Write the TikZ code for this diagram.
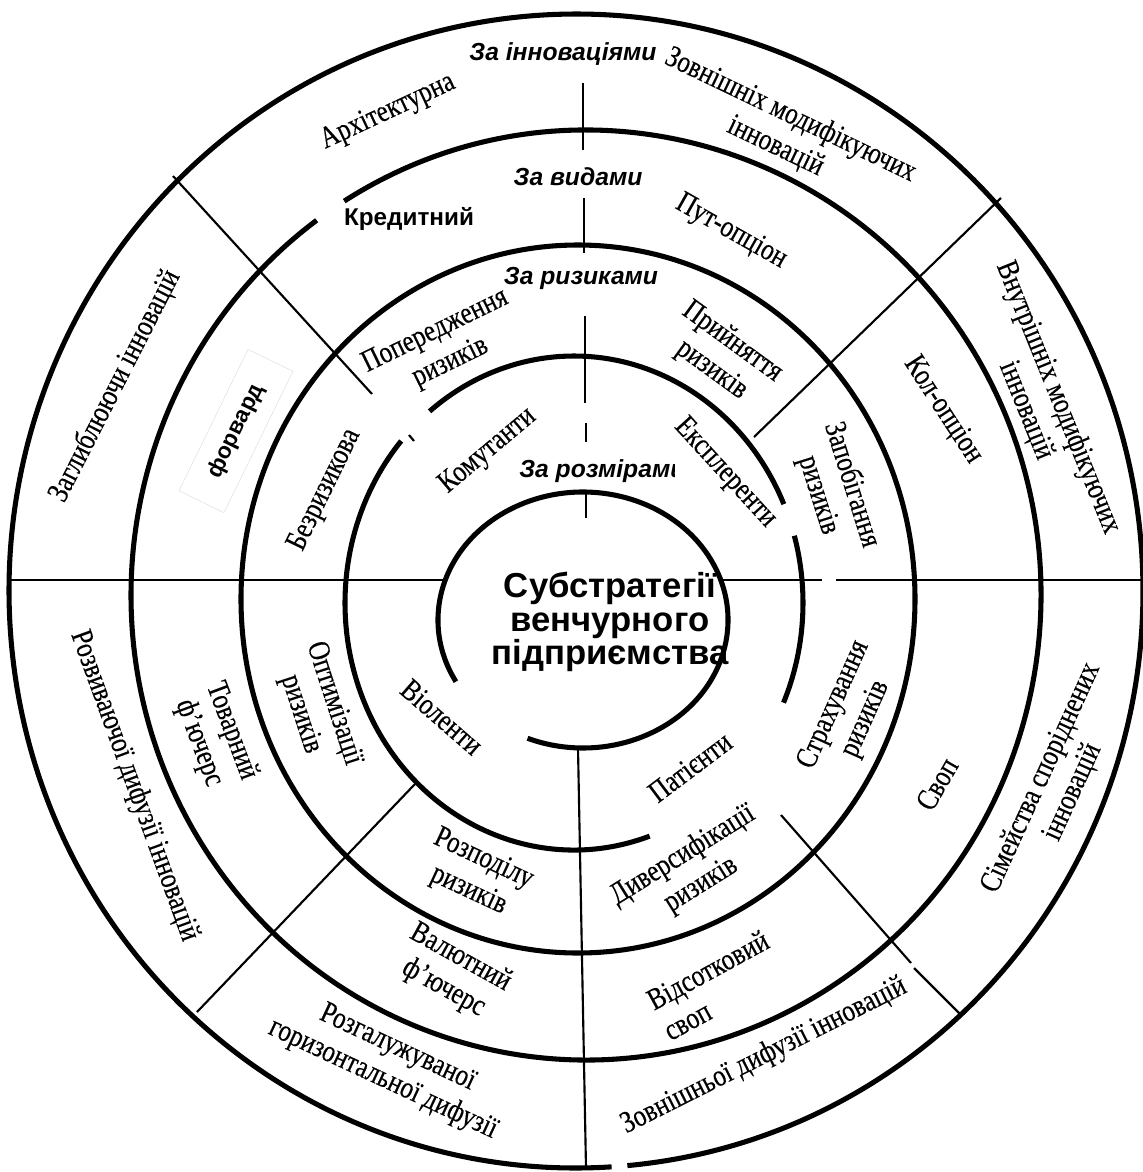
\documentclass[tikz,border=0pt]{standalone}
\usepackage{fontspec}
\setmainfont{Liberation Serif}
\newfontfamily\narrowserif[FakeStretch=0.82,FakeBold=0.3]{Liberation Serif}
\newfontfamily\arialfont{Liberation Sans}

\tikzset{
  ring/.style={line width=3.8pt},
  divider/.style={line width=1.6pt},
  lbl/.style={inner sep=0.75pt, align=center, font=\fontsize{23}{26}\selectfont\narrowserif},
  grp/.style={inner sep=0.75pt, font=\fontsize{18.5}{21}\selectfont\arialfont\bfseries\itshape},
  kind/.style={inner sep=0.75pt, font=\fontsize{18.2}{21}\selectfont\arialfont\bfseries},
}

\begin{document}
\begin{tikzpicture}[x=0.75pt,y=0.75pt,yscale=-1,xscale=1]
\useasboundingbox (0,0) rectangle (1143,1172);

%Shape: Arc [outer ring]
\draw [ring] (576,591) ++(86.4:567 and 577) arc [start angle=86.4, end angle=444.8, x radius=567, y radius=577];
%Shape: Arc
\draw [ring] (586,595) ++(237.9:455 and 465) arc [start angle=237.9, end angle=593.7, x radius=455, y radius=465];
%Shape: Ellipse
\draw [ring] (578,599) ellipse [x radius=337, y radius=354];
%Shape: Arc
\draw [ring] (574,603) ++(-15.8:229 and 247) arc [start angle=-15.8, end angle=23.8, x radius=229, y radius=247];
\draw [ring] (574,603) ++(70.7:229 and 247) arc [start angle=70.7, end angle=221, x radius=229, y radius=247];
\draw [ring] (574,603) ++(230.9:229 and 247) arc [start angle=230.9, end angle=336.4, x radius=229, y radius=247];
%Shape: Arc [centre]
\draw [ring] (583,620) ++(151.2:145 and 128) arc [start angle=151.2, end angle=472.5, x radius=145, y radius=128];

%Straight Lines
\draw [divider] (583,83) -- (583,150);
\draw [divider] (584,198) -- (584,253);
\draw [divider] (585,316) -- (585,403);
\draw [divider] (586,423) -- (586,442);
\draw [divider] (586,492) -- (586,518);
%Straight Lines
\draw [divider, line width=2pt] (9,580) -- (445,580);
\draw [divider, line width=2pt] (721,580) -- (822,580);
\draw [divider, line width=2pt] (836,580) -- (1143,580);
%Straight Lines
\draw [divider] (578,748) -- (586,1168);
%Straight Lines
\draw [divider] (173,176) -- (372,394);
\draw [divider] (409,435) -- (414,441);
\draw [divider] (1001,198) -- (754,437);
\draw [divider] (415,784) -- (197,1012);
\draw [divider] (781,815) -- (911,963);
\draw [divider] (914,968) -- (962,1016);

% Text Node
\draw (610,622) node (core) [inner sep=0.75pt, align=center, font=\fontsize{26}{25}\selectfont\arialfont\bfseries] {Субстратегії\\венчурного\\підприємства};

% Text Node
\draw (563,54) node (zainn) [grp] {За інноваціями};
% Text Node
\draw (578,177) node (zavyd) [grp] {За видами};
% Text Node
\draw (581,278) node (zaryz) [grp] {За ризиками};
% Text Node
\begin{scope}
\clip (500,452) rectangle (674,492);
\draw (518,477) node (zarozm) [grp, anchor=base west] {За розмірами};
\end{scope}

% Text Node
\draw (388,112) node (arch) [lbl, rotate=25] {Архітектурна};
% Text Node
\draw (783,131) node (zovmod) [lbl, rotate=-25.6] {Зовнішніх модифікуючих\\інновацій};
% Text Node
\draw (1042,404) node (vnutmod) [lbl, rotate=-68] {Внутрішніх модифікуючих\\інновацій};
% Text Node
\draw (1057,785) node (simspor) [lbl, rotate=65.5] {Сімейства споріднених\\інновацій};
% Text Node
\draw (764,1056) node (zovdyf) [lbl, rotate=26.7] {Зовнішньої дифузії інновацій};
% Text Node
\draw (390,1064) node (rozghor) [lbl, rotate=-25] {Розгалужуваної\\горизонтальної дифузії};
% Text Node
\draw (134,786) node (rozvdyf) [lbl, rotate=-70] {Розвиваючої дифузії інновацій};
% Text Node
\draw (115,386) node (zaglyb) [lbl, rotate=63] {Заглиблюючи інновацій};

% Text Node
\draw (409,219) node (kred) [kind] {Кредитний};
% Text Node
\draw (731,232) node (put) [lbl, rotate=-29.5] {Пут-опціон};
% Text Node
\draw (943,410) node (kol) [lbl, rotate=-57] {Кол-опціон};
% Text Node
\draw (937,784) node (svop) [lbl, rotate=60] {Своп};
% Text Node
\draw (716,985) node (vidsv) [lbl, align=left, rotate=28.6] {Відсотковий\\своп};
% Text Node
\draw (452,973) node (valf) [lbl, rotate=-29] {Валютний\\ф’ючерс};
% Text Node
\draw (215,737) node (tovf) [lbl, rotate=-69.5] {Товарний\\ф’ючерс};
% Text Node
\draw (236,431) node (forv) [kind, rotate=64, draw=gray!25, line width=0.4pt, minimum width=118pt, minimum height=37.5pt, font=\fontsize{17}{20}\selectfont\arialfont\bfseries] {форвард};

% Text Node
\draw (443,347) node (poper) [lbl, rotate=26] {Попередження\\ризиків};
% Text Node
\draw (722,356) node (pryin) [lbl, rotate=-36] {Прийняття\\ризиків};
% Text Node
\draw (835,490) node (zapob) [lbl, rotate=-72.5] {Запобігання\\ризиків};
% Text Node
\draw (850,712) node (strakh) [lbl, rotate=66] {Страхування\\ризиків};
% Text Node
\draw (692,870) node (dyvers) [lbl, rotate=32] {Диверсифікації\\ризиків};
% Text Node
\draw (476,875) node (rozpod) [lbl, rotate=-25] {Розподілу\\ризиків};
% Text Node
\draw (317,709) node (optym) [lbl, rotate=-72] {Оптимізації\\ризиків};
% Text Node
\draw (325,490) node (bezryz) [lbl, rotate=64] {Безризикова};

% Text Node
\draw (488,451) node (komut) [lbl, rotate=40] {Комутанти};
% Text Node
\draw (725,473) node (ekspl) [lbl, rotate=-47.5] {Експлеренти};
% Text Node
\draw (690,767) node (pat) [lbl, rotate=37] {Патієнти};
% Text Node
\draw (442,717) node (viol) [lbl, rotate=-41] {Віоленти};

\end{tikzpicture}
\end{document}
